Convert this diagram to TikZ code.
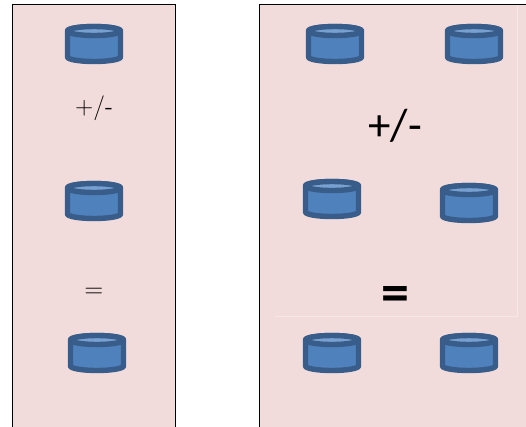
\documentclass[tikz,border=0pt]{standalone}
\usepackage{fontspec}
\setmainfont{Carlito}
\definecolor{panelpink}{RGB}{242,220,219}
\definecolor{panelline}{RGB}{247,232,232}
\definecolor{drumfill}{RGB}{79,129,189}
\definecolor{drumtop}{RGB}{120,160,208}
\definecolor{drumline}{RGB}{56,93,138}
\begin{document}
\begin{tikzpicture}[
x=1pt,y=-1pt,
panel/.style={draw=black,fill=panelpink,line width=0.8pt},
drumside/.style={draw=drumline,line width=5.4pt,line join=round,fill=drumfill},
smalltext/.style={font=\fontsize{25}{25}\selectfont\sffamily,text=black,inner sep=0pt},
bigtext/.style={font=\fontsize{45}{45}\selectfont,text=black,inner sep=0pt},
drum/.pic={
\draw[drumside] (-26.5,-13)--(-26.5,13) arc[start angle=180,end angle=0,x radius=26.5,y radius=4.5]--(26.5,-13) arc[start angle=0,end angle=-180,x radius=26.5,y radius=4.5]--cycle;
\draw[drumside,fill=drumtop] (0,-13) ellipse[x radius=26.5,y radius=4.5];
}
]
\clip (0,0) rectangle (526,426);
\draw[panel] (12.5,440)--(12.5,4.5)--(175.5,4.5)--(175.5,440);
\draw[panel] (259.5,440)--(259.5,4.5)--(540,4.5)--(540,440);
\draw[panelline,line width=0.8pt] (275,316)--(517.5,316)--(517.5,5);
% left column
\pic (lefttop) at (94,44) {drum};
\node[smalltext] (leftplus) at (94,108) {+/-};
\pic (leftmid) at (94,201) {drum};
\node[smalltext,font=\fontsize{26}{26}\selectfont\sffamily] (leftequal) at (94,293) {=};
\pic (leftbottom) at (97,353) {drum};
% right columns
\pic (righttopa) at (335,44) {drum};
\pic (righttopb) at (474,44) {drum};
\node[bigtext] (rightplus) at (395,126) {+/-};
\pic (rightmida) at (332,199) {drum};
\pic (rightmidb) at (469,203) {drum};
\node[bigtext,font=\fontsize{56}{56}\selectfont\bfseries] (rightequal) at (395,299) {=};
\pic (rightbottoma) at (332,353) {drum};
\pic (rightbottomb) at (469,353) {drum};
\end{tikzpicture}
\end{document}
